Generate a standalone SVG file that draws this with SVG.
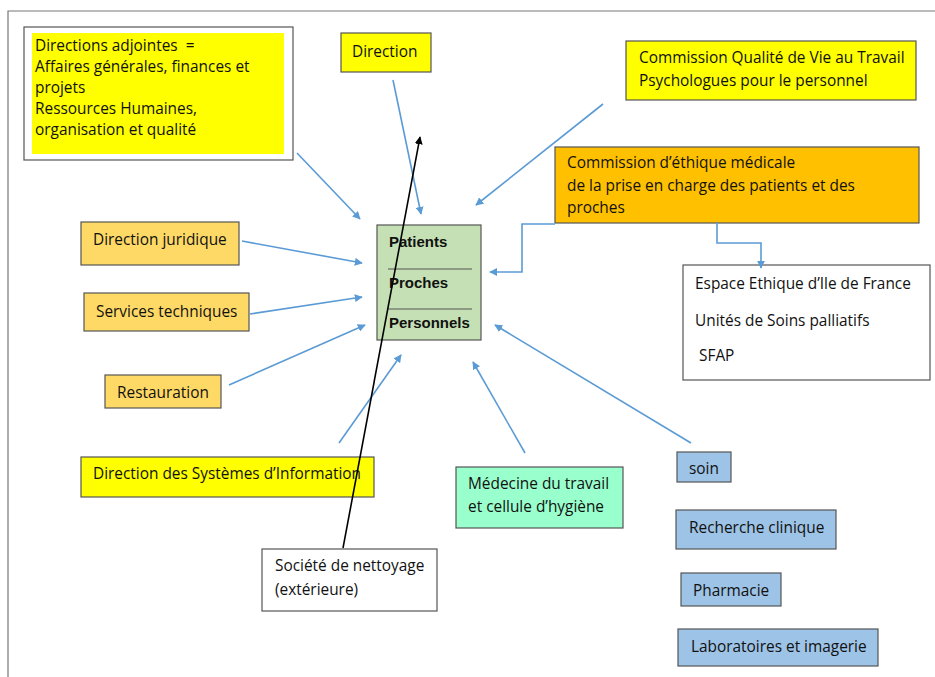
<svg xmlns="http://www.w3.org/2000/svg" width="935" height="677" viewBox="0 0 935 677">
<style>
text{font-family:"Open Sans","Liberation Sans",Arial,sans-serif;font-size:15.4px;fill:#111}
.b{stroke:#555;stroke-width:1.2}
.c{fill:none;stroke:#5B9BD5;stroke-width:1.6}
.k{fill:none;stroke:#000;stroke-width:1.6}
.bold{font-family:"Liberation Sans",Arial,sans-serif;font-size:15px;font-weight:bold}
</style>
<defs>
<marker id="ab" viewBox="0 0 10 10" refX="9" refY="5" markerWidth="8" markerHeight="8" markerUnits="userSpaceOnUse" orient="auto"><path d="M0,0 L10,5 L0,10 z" fill="#5B9BD5"/></marker>
<marker id="ak" viewBox="0 0 10 10" refX="9" refY="5" markerWidth="8" markerHeight="8" markerUnits="userSpaceOnUse" orient="auto"><path d="M0,0 L10,5 L0,10 z" fill="#000"/></marker>
</defs>
<rect width="935" height="677" fill="#fff"/>
<path d="M8,677 V11 H935" fill="none" stroke="#777" stroke-width="1.2"/>

<g id="directions-adjointes">
<rect class="b" x="24" y="27" width="269" height="133" fill="#fff"/>
<rect x="32" y="33" width="252" height="121" fill="#FFFF00"/>
<text x="35" y="51">Directions adjointes&#160; =</text>
<text x="35" y="72">Affaires générales, finances et</text>
<text x="35" y="93">projets</text>
<text x="35" y="114">Ressources Humaines,</text>
<text x="35" y="135">organisation et qualité</text>
</g>
<g id="direction">
<rect class="b" x="341" y="33" width="90" height="39" fill="#FFFF00"/>
<text x="352" y="57">Direction</text>
</g>
<g id="commission-qvt">
<rect class="b" x="626" y="41" width="290" height="59" fill="#FFFF00"/>
<text x="639" y="63">Commission Qualité de Vie au Travail</text>
<text x="639" y="86">Psychologues pour le personnel</text>
</g>
<g id="commission-ethique">
<rect class="b" x="555" y="147" width="364" height="76" fill="#FFC000"/>
<text x="567" y="168">Commission d’éthique médicale</text>
<text x="567" y="191">de la prise en charge des patients et des</text>
<text x="567" y="213">proches</text>
</g>
<g id="patients">
<rect class="b" x="377" y="225" width="104" height="115" fill="#C5E0B4"/>
<line x1="388" y1="269" x2="472" y2="269" stroke="#555" stroke-width="1"/>
<line x1="388" y1="309" x2="472" y2="309" stroke="#555" stroke-width="1"/>
<text class="bold" x="389" y="247">Patients</text>
<text class="bold" x="389" y="288">Proches</text>
<text class="bold" x="389" y="328">Personnels</text>
</g>
<g id="espace-ethique">
<rect class="b" x="683" y="265" width="247" height="115" fill="#fff"/>
<text x="695" y="289">Espace Ethique d’Ile de France</text>
<text x="695" y="326">Unités de Soins palliatifs</text>
<text x="699" y="361">SFAP</text>
</g>
<g id="direction-juridique">
<rect class="b" x="81" y="222" width="158" height="43" fill="#FFD966"/>
<text x="93" y="245">Direction juridique</text>
</g>
<g id="services-techniques">
<rect class="b" x="84" y="293" width="165" height="38" fill="#FFD966"/>
<text x="96" y="317">Services techniques</text>
</g>
<g id="restauration">
<rect class="b" x="105" y="375" width="116" height="33" fill="#FFD966"/>
<text x="117" y="398">Restauration</text>
</g>
<g id="dsi">
<rect class="b" x="81" y="457" width="293" height="40" fill="#FFFF00"/>
<text x="93" y="479">Direction des Systèmes d’Information</text>
</g>
<g id="societe-nettoyage">
<rect class="b" x="262" y="549" width="175" height="62" fill="#fff"/>
<text x="275" y="571">Société de nettoyage</text>
<text x="275" y="595">(extérieure)</text>
</g>
<g id="medecine">
<rect class="b" x="456" y="467" width="167" height="61" fill="#99FFCC"/>
<text x="468" y="489">Médecine du travail</text>
<text x="468" y="512">et cellule d’hygiène</text>
</g>
<g id="soin">
<rect class="b" x="677" y="452" width="54" height="30" fill="#9DC3E6"/>
<text x="689" y="474">soin</text>
</g>
<g id="recherche">
<rect class="b" x="676" y="510" width="160" height="39" fill="#9DC3E6"/>
<text x="689" y="533">Recherche clinique</text>
</g>
<g id="pharmacie">
<rect class="b" x="681" y="573" width="100" height="33" fill="#9DC3E6"/>
<text x="693" y="596">Pharmacie</text>
</g>
<g id="laboratoires">
<rect class="b" x="678" y="629" width="200" height="37" fill="#9DC3E6"/>
<text x="691" y="652">Laboratoires et imagerie</text>
</g>

<g id="connectors">
<line class="c" x1="297" y1="153" x2="360" y2="219" marker-end="url(#ab)"/>
<line class="c" x1="393" y1="80" x2="421" y2="214" marker-end="url(#ab)"/>
<line class="c" x1="603" y1="104" x2="476" y2="205" marker-end="url(#ab)"/>
<path class="c" d="M555,224 H522 V272 H490" marker-end="url(#ab)"/>
<path class="c" d="M717,222 V243 H761 V268" marker-end="url(#ab)"/>
<line class="c" x1="242" y1="241" x2="362" y2="263" marker-end="url(#ab)"/>
<line class="c" x1="250" y1="314" x2="362" y2="297" marker-end="url(#ab)"/>
<line class="c" x1="229" y1="385" x2="365" y2="325" marker-end="url(#ab)"/>
<line class="c" x1="339" y1="443" x2="401" y2="355" marker-end="url(#ab)"/>
<line class="c" x1="525" y1="453" x2="473" y2="362" marker-end="url(#ab)"/>
<line class="c" x1="691" y1="443" x2="495" y2="325" marker-end="url(#ab)"/>
<line class="k" x1="343" y1="548" x2="420" y2="137" marker-end="url(#ak)"/>
</g>
</svg>
